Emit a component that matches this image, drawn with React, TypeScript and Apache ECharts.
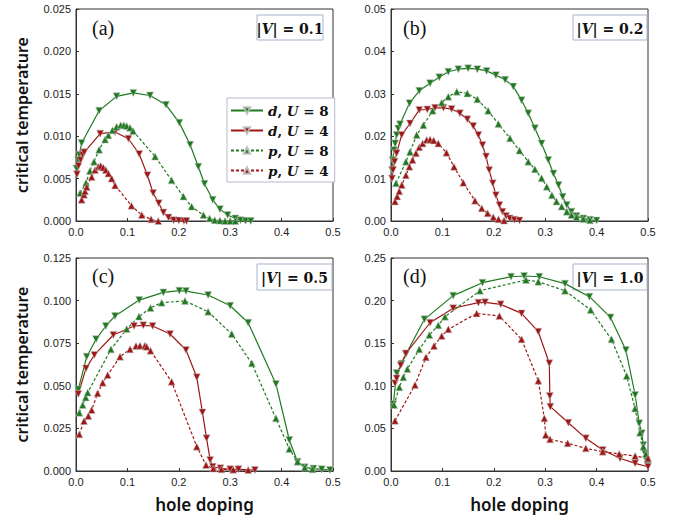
import React, { useEffect, useRef } from "react";
import * as echarts from "echarts";

// ---------- data (hole doping, critical temperature) ----------
const seriesNames = ["d, U = 8", "d, U = 4", "p, U = 8", "p, U = 4"];
const panelLabels = ["(a)", "(b)", "(c)", "(d)"];
const vLabels = ["0.1", "0.2", "0.5", "1.0"];
const yMaxes = [0.025, 0.05, 0.125, 0.25];
const yIntervals = [0.005, 0.01, 0.025, 0.05];
const yDecimals = [3, 2, 3, 2];
const xTicks = [0, 0.1, 0.2, 0.3, 0.4, 0.5];

// panel (a) |V| = 0.1
const aDU8 = [[0.001,0.0062],[0.004,0.0072],[0.0065,0.0078],[0.011,0.0092],[0.045,0.0130],[0.079,0.0147],[0.1115,0.0151],[0.144,0.0148],[0.175,0.0137],[0.201,0.0116],[0.222,0.0090],[0.238,0.0064],[0.25,0.0044],[0.266,0.0025],[0.28,0.0014],[0.295,0.0007],[0.31,0.0003],[0.32,0.0001],[0.33,0.00003],[0.34,0]];
const aDU4 = [[0.002,0.0055],[0.005,0.0065],[0.009,0.0072],[0.013,0.0078],[0.016,0.0081],[0.047,0.0103],[0.076,0.0105],[0.102,0.0097],[0.123,0.0079],[0.139,0.0054],[0.150,0.0033],[0.161,0.0021],[0.170,0.0010],[0.180,0.0004],[0.19,0.0001],[0.20,0.00005],[0.21,0],[0.215,0]];
const aPU8 = [[0.008,0.0033],[0.0195,0.0045],[0.027,0.0059],[0.035,0.0070],[0.045,0.0084],[0.0565,0.0096],[0.063,0.0101],[0.071,0.0107],[0.079,0.0111],[0.087,0.0113],[0.093,0.0113],[0.0986,0.0112],[0.105,0.0110],[0.111,0.0106],[0.154,0.0076],[0.186,0.0048],[0.209,0.0029],[0.225,0.0017],[0.248,0.0007],[0.26,0.0003],[0.27,0.0001],[0.28,0.00005],[0.29,0],[0.30,0],[0.31,0]];
const aPU4 = [[0.011,0.0025],[0.0156,0.0031],[0.0175,0.0035],[0.021,0.0040],[0.0305,0.0052],[0.037,0.0060],[0.0435,0.0064],[0.048,0.0065],[0.053,0.0063],[0.058,0.0060],[0.063,0.0056],[0.0694,0.0050],[0.076,0.0042],[0.108,0.0018],[0.128,0.0007],[0.146,0.0002],[0.16,0]];

// panel (b) |V| = 0.2
const bDU8 = [[0.002,0.0120],[0.003,0.0144],[0.006,0.0167],[0.008,0.0183],[0.011,0.0203],[0.014,0.0218],[0.0175,0.0228],[0.036,0.0278],[0.055,0.0307],[0.076,0.0325],[0.094,0.0339],[0.1115,0.0352],[0.131,0.0358],[0.150,0.0360],[0.168,0.0358],[0.186,0.0354],[0.204,0.0344],[0.222,0.0333],[0.238,0.0317],[0.254,0.0285],[0.267,0.0254],[0.280,0.0219],[0.293,0.0183],[0.306,0.0144],[0.316,0.0112],[0.326,0.0085],[0.334,0.0057],[0.342,0.0038],[0.351,0.0022],[0.361,0.0012],[0.374,0.0006],[0.387,0.0003],[0.40,0.0001]];
const bDU4 = [[0.002,0.0100],[0.004,0.0120],[0.007,0.0140],[0.011,0.0160],[0.0208,0.0203],[0.037,0.0230],[0.055,0.0262],[0.0706,0.0263],[0.0856,0.0267],[0.102,0.0267],[0.118,0.0264],[0.134,0.0254],[0.1485,0.0240],[0.160,0.0224],[0.170,0.0203],[0.178,0.0179],[0.185,0.0152],[0.191,0.0120],[0.198,0.0089],[0.204,0.0061],[0.211,0.0038],[0.217,0.0022],[0.224,0.0012],[0.231,0.0006],[0.240,0.0003],[0.250,0.0001]];
const bPU8 = [[0.0097,0.0089],[0.029,0.0140],[0.037,0.0163],[0.050,0.0203],[0.063,0.0226],[0.081,0.0260],[0.0986,0.0279],[0.1115,0.0293],[0.128,0.0305],[0.1485,0.0301],[0.168,0.0287],[0.189,0.0260],[0.209,0.0229],[0.2315,0.0195],[0.250,0.0166],[0.267,0.0140],[0.280,0.0122],[0.293,0.0101],[0.303,0.0081],[0.313,0.0061],[0.322,0.0046],[0.332,0.0034],[0.342,0.0022],[0.351,0.0014],[0.361,0.0009],[0.374,0.0005],[0.387,0.0002]];
const bPU4 = [[0.0078,0.0046],[0.012,0.0058],[0.016,0.0070],[0.021,0.0085],[0.029,0.0108],[0.0357,0.0128],[0.042,0.0144],[0.0486,0.0160],[0.055,0.0174],[0.0617,0.0183],[0.0694,0.0191],[0.076,0.0192],[0.083,0.0190],[0.092,0.0183],[0.108,0.0161],[0.1226,0.0128],[0.1407,0.0090],[0.1634,0.0048],[0.1765,0.0030],[0.188,0.0018],[0.199,0.0009],[0.209,0.0004],[0.220,0.0001]];

// panel (c) |V| = 0.5
const cDU8 = [[0.0045,0.0479],[0.0208,0.0671],[0.039,0.0773],[0.058,0.0851],[0.076,0.0910],[0.123,0.1003],[0.170,0.1048],[0.201,0.1058],[0.214,0.1056],[0.257,0.1033],[0.300,0.0970],[0.335,0.0870],[0.389,0.0511],[0.415,0.0182],[0.431,0.0055],[0.445,0.0022],[0.462,0.0014],[0.478,0.0010],[0.494,0.0006]];
const cDU4 = [[0.0045,0.0452],[0.0195,0.0602],[0.0357,0.0681],[0.0726,0.0798],[0.113,0.0851],[0.131,0.0855],[0.149,0.0851],[0.183,0.0804],[0.214,0.0710],[0.235,0.0550],[0.246,0.0344],[0.254,0.0192],[0.261,0.0065],[0.266,0.0025],[0.281,0.0016],[0.300,0.0010],[0.316,0.0010],[0.348,0.0006]];
const cPU8 = [[0.0065,0.0342],[0.013,0.0387],[0.0188,0.0432],[0.0227,0.0460],[0.068,0.0714],[0.0986,0.0833],[0.1226,0.0906],[0.145,0.0957],[0.1667,0.0988],[0.212,0.0998],[0.257,0.0935],[0.303,0.0804],[0.342,0.0632],[0.389,0.0309],[0.415,0.0129],[0.431,0.0055],[0.445,0.0020],[0.460,0.0010]];
const cPU4 = [[0.0065,0.0215],[0.0156,0.0293],[0.024,0.0323],[0.0305,0.0358],[0.042,0.0456],[0.052,0.0518],[0.0616,0.0563],[0.0856,0.0671],[0.105,0.0714],[0.1167,0.0733],[0.1245,0.0735],[0.134,0.0735],[0.1375,0.0729],[0.145,0.0706],[0.186,0.0524],[0.235,0.0143],[0.253,0.0035],[0.267,0.0014],[0.283,0.0010],[0.306,0.0008],[0.335,0.0006]];

// panel (d) |V| = 1.0
const dDU8 = [[0.0045,0.0786],[0.011,0.1150],[0.0207,0.1260],[0.029,0.1370],[0.065,0.1780],[0.121,0.2058],[0.178,0.2210],[0.2335,0.2280],[0.259,0.2289],[0.2886,0.2280],[0.3385,0.2199],[0.386,0.2046],[0.427,0.1803],[0.457,0.1420],[0.475,0.0892],[0.483,0.0560],[0.488,0.0442],[0.491,0.0305],[0.494,0.0207],[0.497,0.0129],[0.499,0.0070]];
const dDU4 = [[0.0078,0.1029],[0.011,0.1087],[0.0188,0.1240],[0.029,0.1380],[0.076,0.1740],[0.121,0.1910],[0.170,0.1976],[0.183,0.1980],[0.2134,0.1956],[0.254,0.1850],[0.2866,0.1635],[0.308,0.1264],[0.309,0.0880],[0.310,0.0755],[0.345,0.0567],[0.379,0.0383],[0.412,0.0246],[0.4455,0.0149],[0.475,0.0090],[0.500,0.0050]];
const dPU8 = [[0.0058,0.0775],[0.0162,0.0982],[0.024,0.1100],[0.0318,0.1197],[0.055,0.1428],[0.0746,0.1596],[0.092,0.1710],[0.105,0.1811],[0.173,0.2116],[0.2626,0.2242],[0.2866,0.2222],[0.3385,0.2116],[0.3885,0.1890],[0.429,0.1545],[0.4585,0.1115],[0.4747,0.0735],[0.4844,0.0450],[0.491,0.0286],[0.496,0.0200],[0.4994,0.0137]];
const dPU4 = [[0.0078,0.0590],[0.0467,0.1009],[0.068,0.1334],[0.0837,0.1467],[0.0986,0.1584],[0.1115,0.1663],[0.1667,0.1850],[0.2108,0.1819],[0.254,0.1545],[0.2866,0.1060],[0.2983,0.0618],[0.301,0.0423],[0.3093,0.0372],[0.3437,0.0325],[0.379,0.0266],[0.412,0.0227],[0.444,0.0200],[0.475,0.0176],[0.500,0.0149]];

const panelData = [
  [aDU8, aDU4, aPU8, aPU4],
  [bDU8, bDU4, bPU8, bPU4],
  [cDU8, cDU4, cPU8, cPU4],
  [dDU8, dDU4, dPU8, dPU4],
];

// ---------- styling ----------
const GREEN = "#1f7a1f";
const RED = "#a01616";
const seriesColors = [GREEN, RED, GREEN, RED];
const seriesDashed = [false, false, true, true];
const seriesDown = [true, true, false, false];

const grids = [
  { left: 76, top: 9, width: 257, height: 212 },
  { left: 391, top: 9, width: 257, height: 212 },
  { left: 76, top: 258, width: 257, height: 213 },
  { left: 391, top: 258, width: 257, height: 213 },
];
const labelPos = [
  [92, 28], [403, 28], [92, 276], [403, 276],
];
const vBoxPos = [
  [257, 15, 66, 25], [573, 15, 74, 25], [257, 264, 75, 26], [573, 264, 74, 26],
];

const SERIF = "'DejaVu Serif', 'Liberation Serif', serif";
const SANS = "'Liberation Sans', Arial, sans-serif";
const NAMEFONT = "'Noto Sans', 'Open Sans', sans-serif";

export default function App() {
  const ref = useRef<HTMLDivElement>(null);
  useEffect(() => {
    document.body.style.margin = "0";
    const chart = echarts.init(ref.current!, null, { renderer: "svg" });

    const xAxis = grids.map((_, i) => ({
      gridIndex: i,
      type: "value",
      min: xTicks[0],
      max: xTicks[xTicks.length - 1],
      interval: 0.1,
      axisLine: { show: true, lineStyle: { color: "#333", width: 1 } },
      axisTick: { show: true, inside: true, length: 3, lineStyle: { color: "#333" } },
      splitLine: { show: false },
      axisLabel: {
        formatter: (v: number) => v.toFixed(1),
        fontSize: 11,
        fontFamily: SANS,
        color: "#222",
        margin: 5,
      },
      name: i >= 2 ? "hole doping" : "",
      nameLocation: "middle",
      nameGap: 25,
      nameTextStyle: { fontSize: 17, fontWeight: 600, fontFamily: NAMEFONT, color: "#111" },
    }));

    const yAxis = grids.map((_, i) => ({
      gridIndex: i,
      type: "value",
      min: 0,
      max: yMaxes[i],
      interval: yIntervals[i],
      axisLine: { show: true, lineStyle: { color: "#333", width: 1 } },
      axisTick: { show: true, inside: true, length: 3, lineStyle: { color: "#333" } },
      splitLine: { show: false },
      axisLabel: {
        formatter: (v: number) => v.toFixed(yDecimals[i]),
        fontSize: 11,
        fontFamily: SANS,
        color: "#222",
        margin: 5,
      },
      name: i % 2 === 0 ? "critical temperature" : "",
      nameLocation: "middle",
      nameGap: 46,
      nameTextStyle: { fontSize: 16, fontWeight: 600, fontFamily: NAMEFONT, color: "#111" },
    }));

    const series: any[] = [];
    panelData.forEach((arr, p) => {
      arr.forEach((data, s) => {
        series.push({
          type: "line",
          name: seriesNames[s],
          xAxisIndex: p,
          yAxisIndex: p,
          data,
          symbol: "triangle",
          symbolSize: 7,
          symbolRotate: seriesDown[s] ? 180 : 0,
          showSymbol: true,
          lineStyle: {
            color: seriesColors[s],
            width: 1.2,
            type: seriesDashed[s] ? [3, 2] : "solid",
          },
          itemStyle: {
            color: seriesColors[s],
            borderColor: "rgba(190,190,190,0.9)",
            borderWidth: 0.6,
          },
          emphasis: { disabled: true },
          z: 3,
        });
      });
    });

    const graphic: any[] = [];
    panelLabels.forEach((t, i) => {
      graphic.push({
        type: "text",
        x: labelPos[i][0],
        y: labelPos[i][1],
        style: {
          text: t,
          font: "20px 'Liberation Serif', serif",
          fill: "#111",
          textAlign: "left",
          textVerticalAlign: "middle",
          verticalAlign: "middle",
        },
      });
    });
    vLabels.forEach((v, i) => {
      const [x, y, w, h] = vBoxPos[i];
      graphic.push({
        type: "group",
        x,
        y,
        children: [
          {
            type: "rect",
            shape: { x: 0, y: 0, width: w, height: h },
            style: { fill: "#fff", stroke: "#a6b3cc", lineWidth: 1 },
          },
          {
            type: "text",
            x: w / 2,
            y: h / 2 + 1,
            style: {
              text: `{n||}{i|V}{n|| = ${v}}`,
              rich: {
                n: { fontFamily: SERIF, fontWeight: "bold", fontSize: 14, fill: "#111" },
                i: { fontFamily: SERIF, fontWeight: "bold", fontStyle: "italic", fontSize: 14, fill: "#111" },
              },
              textAlign: "center",
              textVerticalAlign: "middle",
              align: "center",
              verticalAlign: "middle",
            },
          },
        ],
      });
    });

    chart.setOption({
      animation: false,
      backgroundColor: "#fff",
      grid: grids.map((g) => ({ ...g, show: true, borderColor: "#333", borderWidth: 1, backgroundColor: "transparent" })),
      xAxis,
      yAxis,
      legend: {
        data: seriesNames,
        orient: "vertical",
        left: 227,
        top: 98,
        width: 100,
        padding: [5, 6, 4, 3],
        itemWidth: 32,
        itemHeight: 8,
        itemGap: 5,
        borderColor: "#b5bccb",
        borderWidth: 1,
        backgroundColor: "#fff",
        selectedMode: false,
        symbolRotate: "inherit",
        formatter: (name: string) => {
          const parts = name.split(", U = ");
          return `{i|${parts[0]}}{n|, }{i|U}{n| = ${parts[1]}}`;
        },
        textStyle: {
          lineHeight: 15,
          rich: {
            i: { fontFamily: SERIF, fontWeight: "bold", fontStyle: "italic", fontSize: 13.5, color: "#111", lineHeight: 15 },
            n: { fontFamily: SERIF, fontWeight: "bold", fontSize: 13.5, color: "#111", lineHeight: 15 },
          },
        },
      },
      graphic,
      series,
    });

    return () => chart.dispose();
  }, []);
  return <div ref={ref} style={{ width: 685, height: 525, position: "absolute", left: 0, top: 0 }} />;
}
